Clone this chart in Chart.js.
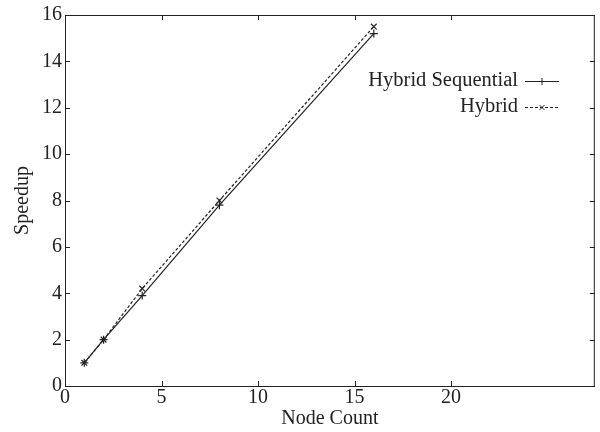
<!DOCTYPE html>
<html>
<head>
<meta charset="utf-8">
<script src="https://cdn.jsdelivr.net/npm/chart.js@4.4.1/dist/chart.umd.min.js"></script>
<style>
    html, body { margin: 0; padding: 0; background: #fff; }
    #wrap { width: 600px; height: 432px; position: relative; }
</style>
</head>
<body>
<div id="wrap"><canvas id="speedupChart"></canvas></div>
<script>
// values
const nodeCounts = [1, 2, 4, 8, 16];
const hybridSequential = [1, 2, 3.9, 7.8, 15.2];
const hybrid = [1, 2, 4.2, 8.0, 15.5];
const xTicks = [0, 5, 10, 15, 20];
const yTicks = [0, 2, 4, 6, 8, 10, 12, 14, 16];
const seriesNames = ['Hybrid Sequential', 'Hybrid'];

const FONT = '"Liberation Serif", "DejaVu Serif", serif';
const INK = '#222';

function toPoints(xs, ys) {
    return xs.map((x, i) => ({ x, y: ys[i] }));
}

// gnuplot-style frame: box, inward ticks mirrored on top/right, legend with sample on the right
const framePlugin = {
    id: 'frame',
    afterDraw(chart) {
        const { ctx, chartArea: a, scales } = chart;
        const len = 5;
        ctx.save();
        ctx.strokeStyle = INK;
        ctx.lineWidth = 1;
        ctx.strokeRect(a.left + 0.5, a.top + 0.5, a.right - a.left - 1, a.bottom - a.top);

        ctx.beginPath();
        xTicks.forEach(v => {
            const px = Math.round(scales.x.getPixelForValue(v)) + 0.5;
            ctx.moveTo(px, a.bottom); ctx.lineTo(px, a.bottom - len);
            ctx.moveTo(px, a.top); ctx.lineTo(px, a.top + len);
        });
        yTicks.forEach(v => {
            const py = Math.round(scales.y.getPixelForValue(v)) + 0.5;
            ctx.moveTo(a.left, py); ctx.lineTo(a.left + len, py);
            ctx.moveTo(a.right, py); ctx.lineTo(a.right - len, py);
        });
        ctx.stroke();

        // legend
        ctx.font = '20.5px ' + FONT;
        ctx.fillStyle = INK;
        ctx.textAlign = 'right';
        ctx.textBaseline = 'middle';
        const textRight = 518;
        const x0 = 525, x1 = 559;
        chart.data.datasets.forEach((ds, i) => {
            const y = 81 + i * 26;
            ctx.fillText(seriesNames[i], textRight, y);
            ctx.beginPath();
            ctx.setLineDash(ds.borderDash || []);
            ctx.moveTo(x0, y + 0.5); ctx.lineTo(x1, y + 0.5);
            ctx.stroke();
            ctx.setLineDash([]);
            Chart.helpers.drawPoint(ctx, {
                pointStyle: ds.pointStyle, radius: 3.5, borderWidth: 1
            }, (x0 + x1) / 2, y + 0.5);
        });
        ctx.restore();
    }
};

const ctx = document.getElementById('speedupChart').getContext('2d');

new Chart(ctx, {
    type: 'line',
    data: {
        datasets: [
            {
                label: seriesNames[0],
                data: toPoints(nodeCounts, hybridSequential),
                borderColor: INK,
                backgroundColor: INK,
                borderWidth: 1.2,
                pointStyle: 'cross',
                pointRadius: 4,
                pointBorderWidth: 1.2,
                tension: 0,
            },
            {
                label: seriesNames[1],
                data: toPoints(nodeCounts, hybrid),
                borderColor: INK,
                backgroundColor: INK,
                borderWidth: 1.2,
                borderDash: [3, 2],
                pointStyle: 'crossRot',
                pointRadius: 4,
                pointBorderWidth: 1.2,
                tension: 0,
            },
        ],
    },
    options: {
        responsive: true,
        maintainAspectRatio: false,
        animation: false,
        layout: { padding: { top: 13, right: 1, left: 0, bottom: 0 } },
        plugins: {
            legend: { display: false },
            tooltip: { enabled: false },
        },
        scales: {
            x: {
                type: 'linear',
                min: 0,
                max: 27.45,
                afterBuildTicks: scale => { scale.ticks = xTicks.map(v => ({ value: v })); },
                afterFit: scale => { scale.height = 46; },
                grid: { display: false, drawTicks: false },
                border: { display: false },
                ticks: {
                    color: INK,
                    font: { family: FONT, size: 20 },
                    padding: 0,
                    maxRotation: 0,
                    autoSkip: false,
                },
                title: {
                    display: true,
                    text: 'Node Count',
                    color: INK,
                    font: { family: FONT, size: 20 },
                    padding: { top: 0, bottom: 1 },
                },
            },
            y: {
                type: 'linear',
                min: 0,
                max: 16,
                afterBuildTicks: scale => { scale.ticks = yTicks.map(v => ({ value: v })); },
                afterFit: scale => { scale.width = 65; },
                grid: { display: false, drawTicks: false },
                border: { display: false },
                ticks: {
                    color: INK,
                    font: { family: FONT, size: 20 },
                    padding: 3,
                    autoSkip: false,
                },
                title: {
                    display: true,
                    text: 'Speedup',
                    color: INK,
                    font: { family: FONT, size: 20 },
                    padding: { top: 11, bottom: 0 },
                },
            },
        },
    },
    plugins: [framePlugin],
});
</script>
</body>
</html>
